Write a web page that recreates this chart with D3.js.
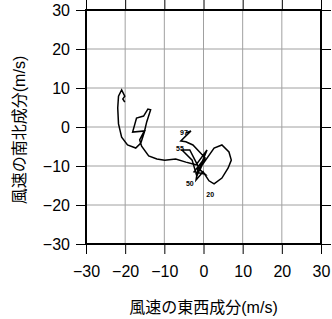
<!DOCTYPE html>
<html>
<head>
<meta charset="utf-8">
<script src="https://cdn.jsdelivr.net/npm/d3@7"></script>
<style>
  body { margin: 0; background: #fff; }
  svg { display: block; }
  .tick text { font-family: "Liberation Sans", Arial, sans-serif; font-size: 16px; fill: #000; }
</style>
</head>
<body>
<div id="chart"></div>
<script>
// hodograph: east-west (u) and north-south (v) wind components, m/s
var uWind = [-20.1, -20.6, -20.1, -20.9, -21.7, -21.9, -21.7, -20.9, -19.4, -17.3,
  -16.0, -15.0, -18.1, -17.1, -15.3, -14.2, -13.5, -14.5, -15.0, -16.3,
  -15.8, -14.0, -11.9, -9.9, -7.1, -4.5, -1.9, 0.9, -1.2, 2.7,
  4.7, 6.5, 7.1, 6.3, 4.7, 2.7, 1.4, -0.1, -1.9, -1.4,
  0.4, -2.4, -0.1, -1.7,
  -2.9, -5.5, -3.5, -0.9, 0.4, -2.7, -4.5, -5.8, -3.2, -4.5];
var vWind = [6.4, 7.2, 7.9, 9.5, 7.9, 4.9, 0.8, -2.6, -4.6, -5.4,
  -4.1, -1.0, -1.3, 2.3, 2.8, 4.6, 4.4, 1.3, -0.8, -3.3,
  -4.9, -7.4, -8.2, -8.5, -8.2, -9.0, -9.7, -5.9, -11.0, -5.4,
  -4.6, -6.4, -8.5, -10.5, -13.1, -14.6, -13.8, -11.5, -13.6, -10.5,
  -12.1, -11.5, -8.5, -12.6,
  -8.5, -5.9, -5.9, -11.0, -7.9, -4.6, -3.8, -3.6, -1.0, -1.5];

var labelText = ["97", "55", "50", "20"];
var labelU = [-5.0, -6.0, -3.5, 1.7];
var labelV = [-1.5, -5.6, -14.6, -17.2];

var axisTicks = [-30, -20, -10, 0, 10, 20, 30];

var W = 332, H = 319;
var svg = d3.select("#chart").append("svg").attr("width", W).attr("height", H);

var x = d3.scaleLinear().domain([-30, 30]).range([86, 321]);
var y = d3.scaleLinear().domain([-30, 30]).range([244, 10]);

// grid
var grid = svg.append("g");
grid.selectAll(".gx").data(axisTicks.slice(1, -1)).enter().append("line")
  .attr("x1", d => x(d)).attr("x2", d => x(d))
  .attr("y1", y(-30)).attr("y2", y(30))
  .attr("stroke", "#a0a0a0").attr("stroke-width", 1);
grid.selectAll(".gy").data(axisTicks.slice(1, -1)).enter().append("line")
  .attr("y1", d => y(d)).attr("y2", d => y(d))
  .attr("x1", x(-30)).attr("x2", x(30))
  .attr("stroke", "#a0a0a0").attr("stroke-width", 1);

// axes
function styleAxis(g) {
  g.select(".domain").remove();
  g.selectAll(".tick line").attr("stroke", "#000").attr("stroke-width", 1);
}
var fmt = d => d < 0 ? "\u2212" + Math.abs(d) : String(d);

svg.append("g").attr("transform", "translate(0," + y(-30) + ")")
  .call(d3.axisBottom(x).tickValues(axisTicks).tickSize(10).tickPadding(12).tickFormat(fmt))
  .call(styleAxis);
svg.append("g").attr("transform", "translate(" + x(-30) + ",0)")
  .call(d3.axisLeft(y).tickValues(axisTicks).tickSize(10).tickPadding(6).tickFormat(fmt))
  .call(styleAxis);
svg.append("g").attr("transform", "translate(0," + y(30) + ")")
  .call(d3.axisTop(x).tickValues(axisTicks).tickSize(10).tickFormat(""))
  .call(styleAxis);
svg.append("g").attr("transform", "translate(" + x(30) + ",0)")
  .call(d3.axisRight(y).tickValues(axisTicks).tickSize(10).tickFormat(""))
  .call(styleAxis);
svg.selectAll(".tick text").attr("font-family", "Liberation Sans, Arial, sans-serif").attr("font-size", 16);

// frame
svg.append("rect")
  .attr("x", x(-30)).attr("y", y(30))
  .attr("width", x(30) - x(-30)).attr("height", y(-30) - y(30))
  .attr("fill", "none").attr("stroke", "#000").attr("stroke-width", 2);

// hodograph line
var pts = uWind.map((u, i) => [u, vWind[i]]);
svg.append("path")
  .datum(pts)
  .attr("fill", "none").attr("stroke", "#000").attr("stroke-width", 1.5)
  .attr("stroke-linejoin", "miter")
  .attr("d", d3.line().x(d => x(d[0])).y(d => y(d[1])));

// height labels
svg.selectAll(".lab").data(labelText).enter().append("text")
  .attr("x", (d, i) => x(labelU[i])).attr("y", (d, i) => y(labelV[i]))
  .attr("text-anchor", "middle").attr("dy", "0.35em")
  .attr("font-family", "Liberation Sans, Arial, sans-serif")
  .attr("font-size", 7).attr("font-weight", "bold").attr("fill", "#000")
  .text(d => d);

// axis titles
var bt = svg.append("text")
  .attr("x", (x(-30) + x(30)) / 2).attr("y", 313)
  .attr("text-anchor", "middle").attr("font-size", 16).attr("fill", "#000");
bt.append("tspan").attr("font-family", "Noto Sans CJK JP").text("風速の東西成分");
bt.append("tspan").attr("font-family", "Liberation Sans, Arial").text("(m/s)");

var lt = svg.append("text")
  .attr("transform", "translate(25," + (y(0) + 3) + ") rotate(-90)")
  .attr("text-anchor", "middle").attr("font-size", 16).attr("fill", "#000");
lt.append("tspan").attr("font-family", "Noto Sans CJK JP").text("風速の南北成分");
lt.append("tspan").attr("font-family", "Liberation Sans, Arial").text("(m/s)");
</script>
</body>
</html>
